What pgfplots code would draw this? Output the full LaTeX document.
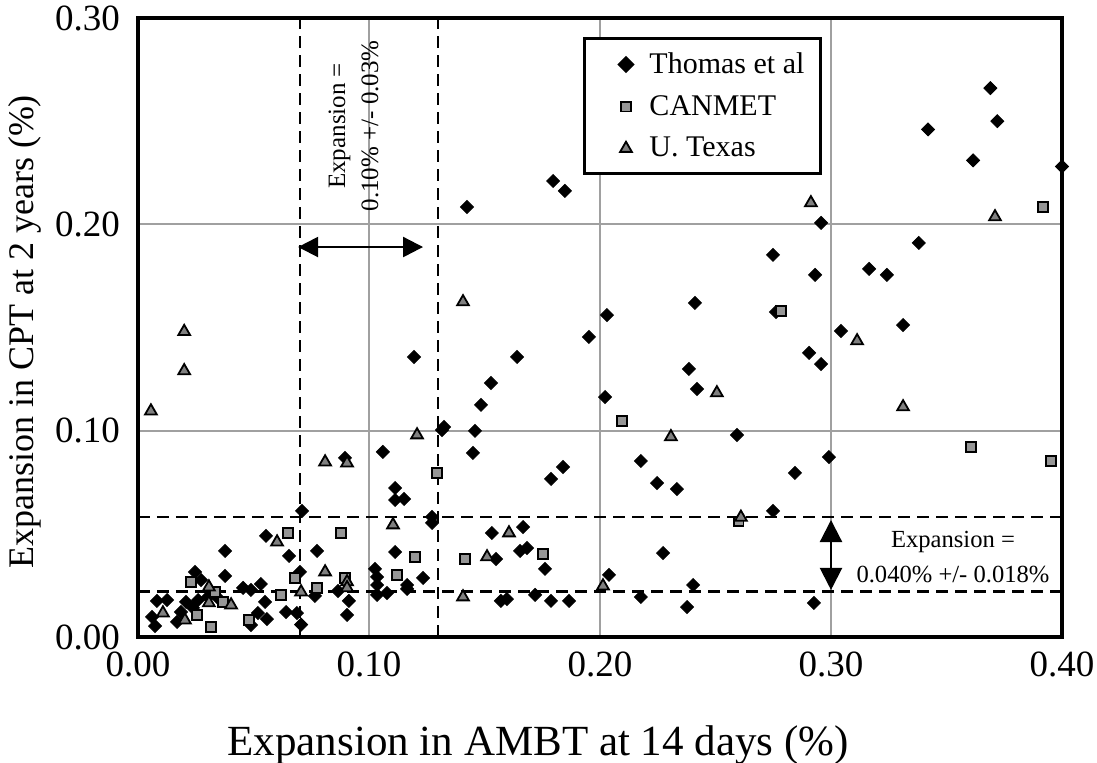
\documentclass[border=0pt]{standalone}
\usepackage{fontspec}
\setmainfont{Liberation Serif}
\usepackage{pgfplots}
\pgfplotsset{compat=1.18}
\usetikzlibrary{arrows.meta}
\definecolor{sqgray}{RGB}{150,150,150}
\definecolor{trgray}{RGB}{128,128,128}
\definecolor{gridgray}{RGB}{160,160,160}
\begin{document}
\begin{tikzpicture}
\begin{axis}[
  scale only axis, width=462pt, height=309.5pt,
  xmin=0, xmax=0.4, ymin=0, ymax=0.3,
  xtick={0,0.1,0.2,0.3,0.4}, ytick={0,0.1,0.2,0.3},
  scaled ticks=false,
  /pgf/number format/fixed, /pgf/number format/fixed zerofill,
  /pgf/number format/precision=2, /pgf/number format/assume math mode=true,
  tick label style={font=\fontsize{18.5}{20}\selectfont},
  yticklabel style={xshift=-5.5pt},
  xticklabel style={yshift=-4pt},
  major tick length=0pt,
  grid=major, grid style={gridgray, line width=1pt},
  axis line style={line width=1.6pt},
  xlabel={Expansion in AMBT at 14 days (\%)},
  ylabel={Expansion in CPT at 2 years (\%)},
  xlabel style={font=\fontsize{21.5}{23}\selectfont, at={(axis description cs:0.433,-0.1745)}, anchor=center},
  ylabel style={font=\fontsize{18}{20}\selectfont, at={(axis description cs:-0.1223,0.4927)}, anchor=center},
  legend style={at={(0.4816,0.9693)}, anchor=north west, draw=black, line width=1.5pt,
    font=\fontsize{15}{18}\selectfont, inner xsep=6pt, inner ysep=5pt, row sep=5.5pt},
  legend image code/.code={\path (0pt,0pt) (23pt,0pt); \draw[#1] plot coordinates {(14pt,0pt)};},
  legend cell align=left,
]
% reference lines
\draw[black, line width=1.1pt, dash pattern=on 6pt off 3.5pt] (axis cs:0.07,0) -- (axis cs:0.07,0.3);
\draw[black, line width=1.1pt, dash pattern=on 6pt off 3.5pt] (axis cs:0.13,0) -- (axis cs:0.13,0.3);
\draw[black, line width=1.1pt, dash pattern=on 6pt off 3.5pt] (axis cs:0,0.058) -- (axis cs:0.4,0.058);
\draw[black, line width=1.1pt, dash pattern=on 6pt off 3.5pt] (axis cs:0,0.022) -- (axis cs:0.4,0.022);

\addplot[only marks, mark=square*, mark size=2.3pt, mark options={rotate=45, fill=black, draw=black}] coordinates {
(0.369,0.266) (0.372,0.250) (0.342,0.246) (0.3615,0.231) (0.400,0.228)
(0.2957,0.2007) (0.2749,0.1852) (0.338,0.191) (0.3165,0.1784) (0.3242,0.1755)
(0.2931,0.1755) (0.2762,0.1575) (0.3043,0.1483) (0.3312,0.1512) (0.2905,0.1377)
(0.2957,0.1323) (0.2411,0.1619) (0.2385,0.1299) (0.242,0.1202) (0.2593,0.0979)
(0.2991,0.0872) (0.2177,0.0853) (0.2844,0.0795) (0.2247,0.0746) (0.2333,0.0717)
(0.2749,0.0611) (0.1797,0.221) (0.1848,0.2162) (0.1424,0.2084) (0.203,0.156)
(0.1952,0.1454) (0.1641,0.1357) (0.1528,0.1231) (0.1485,0.1125) (0.2022,0.1163)
(0.1325,0.1018) (0.1316,0.1003) (0.1459,0.0999) (0.145,0.0892) (0.184,0.0824)
(0.1788,0.0766) (0.106,0.0897) (0.0896,0.0868) (0.1113,0.0722) (0.1152,0.0669)
(0.1113,0.0664) (0.071,0.0611) (0.1273,0.0582) (0.1273,0.0553) (0.1532,0.0504)
(0.1667,0.0533) (0.155,0.0378) (0.1654,0.0417) (0.1684,0.0431) (0.1762,0.033)
(0.1571,0.0175) (0.1597,0.0184) (0.1719,0.0204) (0.1788,0.0175) (0.1866,0.0175)
(0.2039,0.0301) (0.2177,0.0194) (0.2273,0.0407) (0.2403,0.0252) (0.2377,0.0145)
(0.2926,0.0165) (0.1195,0.1357)
(0.0775,0.0417) (0.1113,0.0412) (0.0701,0.0315) (0.0766,0.0199) (0.0866,0.0223)
(0.0913,0.0175) (0.0905,0.0107) (0.0688,0.0116) (0.0706,0.0060) (0.1026,0.033)
(0.1035,0.0291) (0.1035,0.0252) (0.1035,0.0204) (0.1078,0.0213) (0.1165,0.0252)
(0.1165,0.0233) (0.1234,0.0286) (0.0377,0.0417) (0.0654,0.0393) (0.0377,0.0296)
(0.0247,0.0315) (0.0273,0.0276) (0.0303,0.0194) (0.0455,0.0238) (0.0489,0.0228)
(0.0532,0.0257) (0.0082,0.0175) (0.0126,0.0179) (0.0061,0.0097) (0.0074,0.0053)
(0.0208,0.017) (0.0186,0.0121) (0.0169,0.0073) (0.026,0.0179) (0.0238,0.0141)
(0.0346,0.0189) (0.055,0.017) (0.0519,0.0116) (0.0558,0.0087) (0.0489,0.0058)
(0.0641,0.0121) (0.0554,0.049)
};
\addlegendentry{Thomas et al}

\addplot[only marks, mark=square*, mark size=2.4pt, mark options={fill=sqgray, draw=black, line width=0.9pt}] coordinates {
(0.3918,0.2084) (0.2784,0.158) (0.2095,0.1047) (0.3606,0.0921) (0.3952,0.0853)
(0.26,0.056) (0.1294,0.0795) (0.1416,0.0378) (0.1753,0.0402) (0.065,0.0504)
(0.0879,0.0504) (0.1199,0.0388) (0.068,0.0286) (0.0896,0.0286) (0.0775,0.0238)
(0.1121,0.0301) (0.0229,0.0267) (0.0333,0.0218) (0.0619,0.0204) (0.0255,0.0107)
(0.0368,0.017) (0.0316,0.0048) (0.048,0.0082)
};
\addlegendentry{CANMET}

\addplot[only marks, mark=triangle*, mark size=3.4pt, mark options={fill=trgray, draw=black, line width=0.9pt}] coordinates {
(0.3113,0.1435) (0.2913,0.2104) (0.371,0.2036) (0.2506,0.1183) (0.3312,0.1115)
(0.2307,0.097) (0.261,0.058) (0.1407,0.1624) (0.0056,0.1095) (0.020,0.148)
(0.020,0.129) (0.1208,0.0979) (0.081,0.0848) (0.0905,0.0843) (0.1104,0.0543)
(0.1606,0.0504) (0.1511,0.0388) (0.1407,0.0194) (0.2013,0.0247) (0.081,0.0315)
(0.0905,0.0267) (0.0905,0.0238) (0.0706,0.0218) (0.0602,0.046) (0.0307,0.0242)
(0.0108,0.0116) (0.0203,0.0082) (0.0307,0.0165) (0.0403,0.0155)
};
\addlegendentry{U. Texas}

% annotations
\draw[{Triangle[length=10pt,width=10pt]}-{Triangle[length=10pt,width=10pt]}, line width=1.1pt]
  (axis cs:0.0693,0.189) -- (axis cs:0.1234,0.189);
\draw[{Triangle[length=11pt,width=11pt]}-{Triangle[length=11pt,width=11pt]}, line width=1.1pt]
  (axis cs:0.30,0.0567) -- (axis cs:0.30,0.0228);
\node[rotate=90, align=center, font=\fontsize{12.5}{16.5}\selectfont] at (axis cs:0.0933,0.2477)
  {Expansion =\\0.10\% +/- 0.03\%};
\node[align=center, font=\fontsize{12.3}{17.5}\selectfont] at (axis cs:0.3528,0.0388)
  {Expansion =\\0.040\% +/- 0.018\%};
\end{axis}
\pgfresetboundingbox
\path[use as bounding box] (-69pt,-63pt) rectangle (479.5pt,318.5pt);
\end{tikzpicture}
\end{document}
